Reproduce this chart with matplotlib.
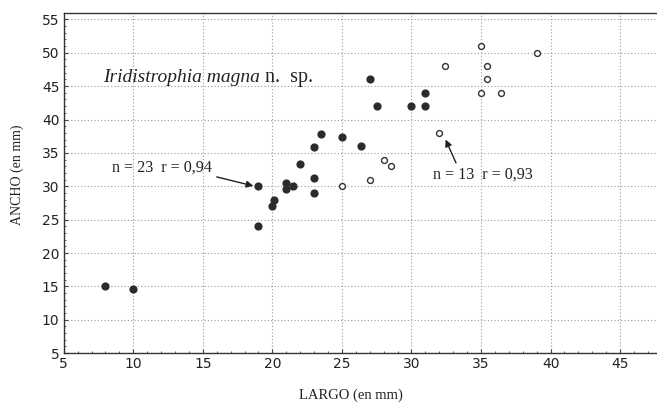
import matplotlib
matplotlib.use("Agg")
import matplotlib.pyplot as plt
from matplotlib.ticker import MultipleLocator

# Filled points (n = 23)
largo_a = [8.0, 10.0, 19.0, 19.95, 20.1, 19.0, 21.0, 21.0, 21.5, 23.0, 23.0, 22.0,
           23.0, 23.5, 25.0, 26.4, 27.0, 27.5, 30.0, 31.0, 31.0]
ancho_a = [15.0, 14.6, 24.0, 27.0, 28.0, 30.0, 30.5, 29.6, 30.0, 29.0, 31.3, 33.3,
           35.9, 37.9, 37.4, 36.0, 46.0, 42.0, 42.0, 44.0, 42.0]

# Open points (n = 13)
largo_b = [35.0, 39.0, 32.4, 35.4, 35.4, 35.0, 36.4, 32.0, 28.0, 28.5, 27.0, 25.0]
ancho_b = [51.0, 50.0, 48.0, 48.0, 46.0, 44.0, 44.0, 38.0, 34.0, 33.0, 31.0, 30.0]

xticks = [5, 10, 15, 20, 25, 30, 35, 40, 45]
yticks = [5, 10, 15, 20, 25, 30, 35, 40, 45, 50, 55]

fig = plt.figure(figsize=(6.57, 4.05), dpi=100)
ax = fig.add_axes([0.097, 0.128, 0.903, 0.839])

ax.set_xlim(5, 47.65)
ax.set_ylim(5, 55.9)
ax.set_xticks(xticks)
ax.set_yticks(yticks)
ax.xaxis.set_minor_locator(MultipleLocator(1))
ax.yaxis.set_minor_locator(MultipleLocator(1))
ax.tick_params(which='both', direction='in', color='#444444')
ax.tick_params(which='major', length=3, labelsize=10, pad=3, labelcolor='#222222')
ax.tick_params(which='minor', length=1.5)
for lab in ax.get_xticklabels() + ax.get_yticklabels():
    lab.set_family('DejaVu Sans')

ax.grid(True, which='major', linestyle=(0, (1, 2)), color='#999999', linewidth=0.8)
ax.set_axisbelow(True)

for s in ['left', 'bottom', 'top']:
    ax.spines[s].set_color('#333333')
    ax.spines[s].set_linewidth(1.0)
ax.spines['right'].set_visible(False)

ax.scatter(largo_a, ancho_a, s=24, color='#2b2b2b', edgecolors='#2b2b2b', zorder=3)
ax.scatter(largo_b, ancho_b, s=18, facecolors='white', edgecolors='#333333', linewidths=1.0, zorder=3)

serif = 'Liberation Serif'
ax.text(7.8, 46.35, 'Iridistrophia magna', family=serif, style='italic', fontsize=14,
        va='center', ha='left', color='#222222')
ax.text(19.47, 46.35, 'n.  sp.', family=serif, fontsize=14.5, va='center', ha='left', color='#222222')

ax.text(8.48, 32.8, 'n = 23  r = 0,94', family=serif, fontsize=11.6,
        va='center', ha='left', color='#222222')
ax.annotate('', xy=(18.63, 30.05), xytext=(16.0, 31.4),
            arrowprops=dict(arrowstyle='-|>', color='#222222', lw=1.0,
                            shrinkA=0, shrinkB=0, mutation_scale=10))
ax.text(31.53, 31.8, 'n = 13  r = 0,93', family=serif, fontsize=11.6,
        va='center', ha='left', color='#222222')
ax.annotate('', xy=(32.45, 37.0), xytext=(33.2, 33.5),
            arrowprops=dict(arrowstyle='-|>', color='#222222', lw=1.0,
                            shrinkA=0, shrinkB=0, mutation_scale=10))

fig.text(351 / 657, 1 - 395 / 405, 'LARGO (en mm)', family=serif, fontsize=10.5,
         color='#222222', ha='center', va='center')
fig.text(17 / 657, 1 - 175 / 405, 'ANCHO (en mm)', family=serif, fontsize=10,
         color='#222222', ha='center', va='center', rotation=90)

fig.savefig('out.png', dpi=100, facecolor='white')
